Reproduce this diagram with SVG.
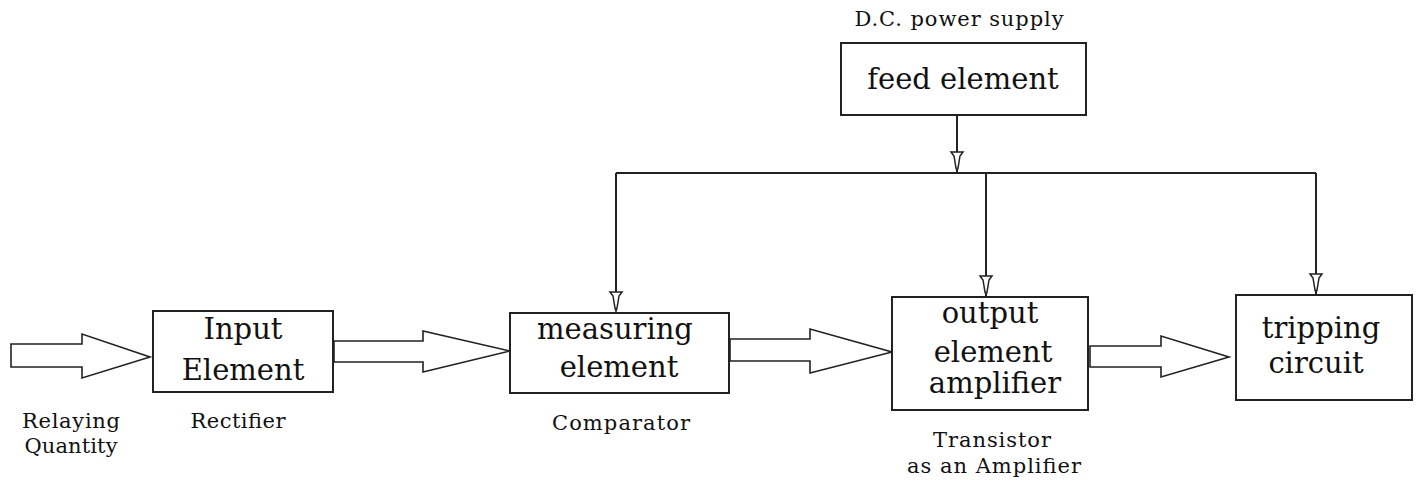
<svg xmlns="http://www.w3.org/2000/svg" width="1418" height="482" viewBox="0 0 1418 482">
<style>
.box{fill:#fff;stroke:#222;stroke-width:2}
.big{font-family:"DejaVu Serif","Liberation Serif",serif;font-size:29px;fill:#111;text-anchor:middle}
.small{font-family:"DejaVu Serif","Liberation Serif",serif;font-size:21px;fill:#111;text-anchor:middle}
.line{fill:none;stroke:#222;stroke-width:2}
.blk{fill:#fff;stroke:#222;stroke-width:1.6;stroke-linejoin:miter}
.tip{fill:#fff;stroke:#222;stroke-width:1.5}
</style>
<defs>
<path id="tipShape" class="tip" d="M-6,-19 H6 L3,-15 L1,-3 L0,0 L-1,-3 L-3,-15 Z"/>
</defs>
<rect width="1418" height="482" fill="#fff"/>
<g id="connectors">
<path class="line" d="M957,115 V173"/>
<path class="line" d="M616,173 H1316"/>
<path class="line" d="M616,173 V311"/>
<path class="line" d="M986,173 V296"/>
<path class="line" d="M1316,173 V294"/>
<use href="#tipShape" x="957" y="171"/>
<use href="#tipShape" x="616" y="311"/>
<use href="#tipShape" x="986" y="295"/>
<use href="#tipShape" x="1316" y="293"/>
<path class="blk" d="M11,344 H82 V334 L150,357 L82,378 V367 H11 Z"/>
<path class="blk" d="M334,341 H423 V331 L510,351 L423,372 V362 H334 Z"/>
<path class="blk" d="M730,339 H810 V329 L892,352 L810,373 V361 H730 Z"/>
<path class="blk" d="M1090,346 H1161 V336 L1229,357 L1161,377 V367 H1090 Z"/>
</g>
<g id="feed">
<text class="small" x="959" y="26" textLength="209">D.C. power supply</text>
<rect class="box" x="841" y="43" width="245" height="72"/>
<text class="big" x="963" y="89">feed element</text>
</g>
<g id="input">
<rect class="box" x="153" y="311" width="180" height="81"/>
<text class="big" x="243" y="339">Input</text>
<text class="big" x="243" y="380">Element</text>
<text class="small" x="71" y="428" textLength="98">Relaying</text>
<text class="small" x="71" y="453" textLength="93">Quantity</text>
<text class="small" x="238" y="428" textLength="95">Rectifier</text>
</g>
<g id="measuring">
<rect class="box" x="510" y="313" width="219" height="80"/>
<text class="big" x="615" y="339">measuring</text>
<text class="big" x="619" y="377">element</text>
<text class="small" x="621" y="430" textLength="138">Comparator</text>
</g>
<g id="output">
<rect class="box" x="892" y="297" width="196" height="113"/>
<text class="big" x="990" y="323">output</text>
<text class="big" x="993" y="362">element</text>
<text class="big" x="995" y="393">amplifier</text>
<text class="small" x="992" y="447" textLength="118">Transistor</text>
<text class="small" x="994" y="473" textLength="174">as an Amplifier</text>
</g>
<g id="tripping">
<rect class="box" x="1236" y="295" width="176" height="105"/>
<text class="big" x="1321" y="338" font-size="30">tripping</text>
<text class="big" x="1316" y="373" font-size="30">circuit</text>
</g>
</svg>
